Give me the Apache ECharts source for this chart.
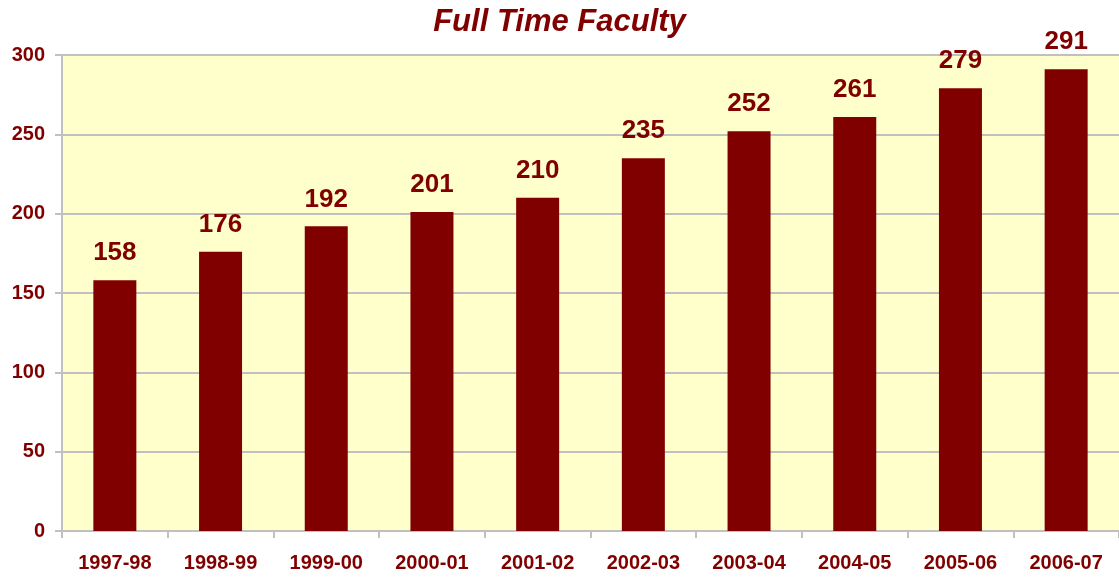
<!DOCTYPE html>
<html><head><meta charset="utf-8">
<script src="https://cdn.jsdelivr.net/npm/echarts@6/dist/echarts.min.js"></script>
<style>html,body{margin:0;padding:0;background:#fff}#c{width:1119px;height:577px}</style>
</head><body><div id="c"></div>
<script>
const categories = ['1997-98','1998-99','1999-00','2000-01','2001-02','2002-03','2003-04','2004-05','2005-06','2006-07'];
const faculty = [158,176,192,201,210,235,252,261,279,291];
const yTicks = {min:0, max:300, interval:50};
const chart = echarts.init(document.getElementById('c'));
const red = '#800000';
chart.setOption({
  animation:false,
  title:{text:'Full Time Faculty', left:'center', top:2,
    textStyle:{fontFamily:'Liberation Sans', fontSize:31, fontWeight:'bold', fontStyle:'italic', color:red}},
  grid:{left:62, right:0, top:55, bottom:46, show:true, backgroundColor:'#FFFFCC', borderWidth:0},
  xAxis:{type:'category', data:categories,
    axisLine:{lineStyle:{color:'#C0C0C0', width:2}},
    axisTick:{show:true, length:7, lineStyle:{color:'#C0C0C0', width:2}},
    axisLabel:{margin:22, color:red, fontFamily:'Liberation Sans', fontSize:20, fontWeight:'bold'}},
  yAxis:{type:'value', min:yTicks.min, max:yTicks.max, interval:yTicks.interval,
    axisLine:{show:true, lineStyle:{color:'#C0C0C0', width:2}},
    axisTick:{show:true, length:7, lineStyle:{color:'#C0C0C0', width:2}},
    splitLine:{lineStyle:{color:'#C0C0C0', width:2}},
    axisLabel:{margin:17, color:red, fontFamily:'Liberation Sans', fontSize:20, fontWeight:'bold'}},
  series:[{type:'bar', data:faculty, barWidth:43, itemStyle:{color:red},
    label:{show:true, position:'top', distance:14, color:red, fontFamily:'Liberation Sans', fontSize:26, fontWeight:'bold'}}]
});
</script></body></html>
